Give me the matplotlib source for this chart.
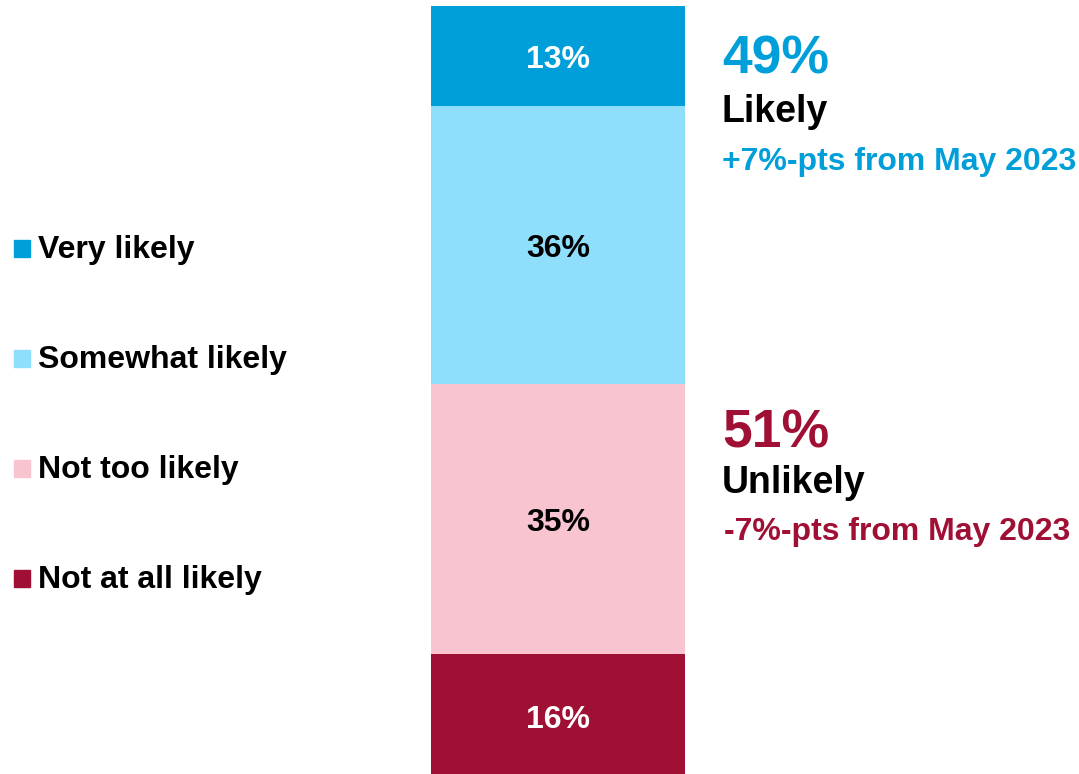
import matplotlib.pyplot as plt
from matplotlib.patches import Rectangle

# survey shares, top to bottom of the stacked bar
categories = ['Very likely', 'Somewhat likely', 'Not too likely', 'Not at all likely']
shares = [13, 36, 35, 16]
colors = ['#009FDA', '#8FDEFC', '#F7C4D0', '#A01035']
label_colors = ['white', 'black', 'black', 'white']

# net changes vs. May 2023
likely_change = '+7'
unlikely_change = '-7'
since = 'May 2023'

plt.rcParams['font.family'] = ['Liberation Sans', 'DejaVu Sans']
plt.rcParams['font.weight'] = 'bold'

W, H = 1079, 774
fig = plt.figure(figsize=(W / 100, H / 100), dpi=100)
# bar runs a little past the bottom edge of the picture
ax = fig.add_axes([431 / W, -4 / H, 254 / W, 772 / H])

# stacked bar, drawn from the top down
bottom = 0
for share, color, tcolor in zip(shares, colors, label_colors):
    ax.bar(0, share, bottom=bottom, width=1, color=color, linewidth=0)
    ax.text(0, bottom + share / 2, f'{share}%', ha='center', va='center_baseline',
            fontsize=23, fontweight='bold', color=tcolor, clip_on=False)
    bottom += share

ax.set_xlim(-0.5, 0.5)
ax.set_ylim(sum(shares), 0)
ax.axis('off')

# legend on the left, done by hand to keep the wide spacing
legend_base = [258, 368, 478, 588]
for label, color, yb in zip(categories, colors, legend_base):
    fig.add_artist(Rectangle((14 / W, 1 - (yb - 1) / H), 16 / W, 17 / H,
                             color=color, transform=fig.transFigure))
    fig.text(38 / W, 1 - yb / H, label, fontsize=23, fontweight='bold',
             va='baseline', ha='left')

# net totals on the right
likely = shares[0] + shares[1]
unlikely = shares[2] + shares[3]

fig.text(722 / W, 1 - 73 / H, f'{likely}%', fontsize=38.5, color=colors[0], va='baseline')
fig.text(722 / W, 1 - 122 / H, 'Likely', fontsize=27, color='black', va='baseline')
fig.text(722 / W, 1 - 170 / H, f'{likely_change}%-pts from {since}', fontsize=23,
         color=colors[0], va='baseline')

fig.text(722 / W, 1 - 447 / H, f'{unlikely}%', fontsize=38.5, color=colors[3], va='baseline')
fig.text(722 / W, 1 - 493 / H, 'Unlikely', fontsize=27, color='black', va='baseline')
fig.text(724 / W, 1 - 540 / H, f'{unlikely_change}%-pts from {since}', fontsize=23,
         color=colors[3], va='baseline')

fig.savefig('out.png', dpi=100)
